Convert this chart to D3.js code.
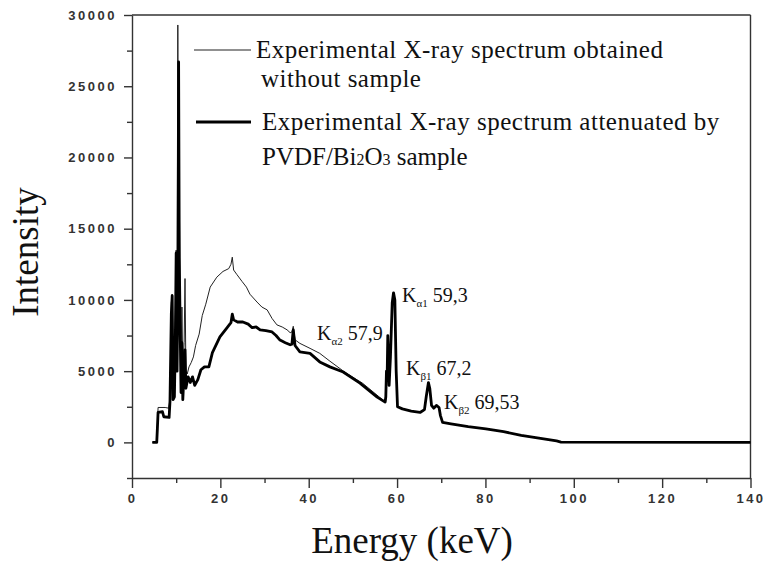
<!DOCTYPE html>
<html>
<head>
<meta charset="utf-8">
<script src="https://cdn.jsdelivr.net/npm/d3@7"></script>
<style>
  body { margin: 0; background: #fff; }
</style>
</head>
<body>
<svg id="chart" width="763" height="567"></svg>
<script>
// X-ray spectrum, with and without PVDF/Bi2O3 sample

// spectrum obtained without sample (thin line)
var energyFree = [4.6, 5.6, 5.75, 5.9, 7.5, 8.3, 8.6, 8.9, 9.1, 9.3, 9.6, 9.8, 10.0, 10.2, 10.37, 10.5, 10.7, 10.9,
	11.1, 11.3, 11.5, 11.8, 12.0, 12.2, 12.5, 12.9, 13.4, 13.9, 14.4, 15.2, 15.9, 16.7, 17.7, 19.2, 20.6, 21.9,
	22.4, 22.7, 23.0, 23.7, 24.9, 25.9, 26.7, 28.3, 29.4, 30.6, 31.7, 32.8, 34.0, 35.1, 35.8, 36.2, 36.5, 36.9,
	38.0, 40.3, 42.5, 44.8, 48.3, 52.2, 56.0, 57.4];
var intensityFree = [0, 0, 1200, 2450, 2450, 2400, 3000, 9800, 10400, 3500, 4200, 8000, 13500, 6000, 29300, 16000, 18000, 9000,
	6000, 9500, 5000, 7000, 11500, 5000, 4800, 5300, 5600, 6000, 6800, 7600, 8900, 9700, 10900, 11600, 12000, 12200,
	12500, 13000, 12100, 11800, 11300, 10900, 10400, 9850, 9500, 9300, 8700, 8250, 8100, 7900, 7700, 7750, 8150, 7200,
	6950, 6600, 6250, 5700, 4900, 4150, 3180, 2830];

// spectrum attenuated by the PVDF/Bi2O3 sample (thick line)
var energyPvdf = [4.6, 5.6, 5.75, 5.9, 6.9, 7.2, 8.4, 8.6, 8.9, 9.1, 9.3, 9.6, 9.8, 10.0, 10.2, 10.4, 10.55, 10.7, 10.9,
	11.1, 11.3, 11.5, 11.8, 12.0, 12.2, 12.7, 13.2, 13.7, 14.2, 14.9, 15.6, 16.4, 17.4, 18.2, 19.9, 21.4, 22.4,
	22.7, 23.0, 23.9, 25.1, 26.3, 27.2, 28.1, 29.0, 30.3, 31.7, 32.6, 33.5, 34.7, 35.8, 36.2, 36.5, 36.9,
	38.0, 40.3, 42.5, 44.8, 47.8, 51.6, 55.5,
	57.3, 57.45, 57.6, 57.75, 57.9, 58.2, 58.5, 58.9, 59.2, 59.5, 59.8, 60.1, 61.2, 63.2, 65.2, 66.2, 66.6, 67.1,
	67.4, 67.8, 68.3, 68.9, 69.5, 69.8, 70.3, 72.2, 76.1, 80.1, 84.1, 88.1, 92.1, 96.1, 97.1, 140];
var intensityPvdf = [0, 0, 1000, 2100, 2150, 1800, 1750, 2900, 9000, 10300, 3000, 3200, 7000, 13300, 5000, 11000, 26700, 13000, 8000,
	3500, 7000, 3000, 5000, 6500, 3800, 4600, 4200, 4600, 4000, 4400, 5100, 5300, 5300, 6300, 7400, 8000, 8400,
	9000, 8600, 8450, 8450, 8300, 8050, 8100, 7900, 7850, 7750, 7500, 7180, 7000, 6850, 6900, 7900, 6800,
	6350, 6250, 5650, 5300, 4940, 4160, 3180,
	2830, 3200, 5000, 4500, 7500, 4000, 6000, 9800, 10500, 10000, 5000, 2500, 2350, 2200, 2100, 2300, 3200, 4200,
	3800, 2600, 2400, 2600, 2450, 1900, 1400, 1300, 1100, 950, 750, 500, 300, 100, 20, 0];

var xTicks = [0, 20, 40, 60, 80, 100, 120, 140];
var xMinorTicks = [10, 30, 50, 70, 90, 110, 130];
var yTicks = [0, 5000, 10000, 15000, 20000, 25000, 30000];
var yMinorTicks = [-2500, 2500, 7500, 12500, 17500, 22500, 27500];

var peakLabels = [
	{ sub: 'α1', text: '59,3', e: 59.3 },
	{ sub: 'α2', text: '57,9', e: 57.9 },
	{ sub: 'β1', text: '67,2', e: 67.2 },
	{ sub: 'β2', text: '69,53', e: 69.53 }
];

// the thin series runs together with the thick one above 57 keV
var freeTail = energyPvdf.map(function (e, i) { return [e, intensityPvdf[i]]; })
		.filter(function (d) { return d[0] > 57.4; });
var freeData = energyFree.map(function (e, i) { return [e, intensityFree[i]]; }).concat(freeTail);
var pvdfData = energyPvdf.map(function (e, i) { return [e, intensityPvdf[i]]; });

var svg = d3.select('#chart');

// plot box (note: "top" is taken by window.top)
var plotLeft = 132, plotRight = 750.5, plotTop = 15, plotBottom = 478;

var x = d3.scaleLinear().domain([0, 140]).range([plotLeft, plotRight]);
var y = d3.scaleLinear().domain([-2500, 30000]).range([plotBottom, plotTop]);

var axisColor = '#333';

// axes with minor ticks
svg.append('g')
		.attr('transform', 'translate(0,' + plotBottom + ')')
		.call(d3.axisBottom(x).tickValues(xMinorTicks).tickSize(5).tickFormat(''))
		.call(function (g) { g.select('.domain').remove(); });

svg.append('g')
		.attr('transform', 'translate(' + plotLeft + ',0)')
		.call(d3.axisLeft(y).tickValues(yMinorTicks).tickSize(5).tickFormat(''))
		.call(function (g) { g.select('.domain').remove(); });

svg.append('g')
		.attr('transform', 'translate(0,' + plotBottom + ')')
		.call(d3.axisBottom(x).tickValues(xTicks).tickSize(10).tickSizeOuter(0).tickPadding(6));

svg.append('g')
		.attr('transform', 'translate(' + plotLeft + ',0)')
		.call(d3.axisLeft(y).tickValues(yTicks).tickSize(8).tickSizeOuter(0).tickPadding(7).tickFormat(d3.format('d')));

svg.selectAll('.tick line, .domain')
		.attr('stroke', axisColor)
		.attr('stroke-width', 1.4);

svg.selectAll('.tick text')
		.attr('fill', '#333')
		.style('font-family', 'Liberation Sans, Arial, sans-serif')
		.style('font-size', '13px')
		.style('font-weight', 'bold')
		.style('letter-spacing', '2.5px');

// frame on top and right
svg.append('line')
		.attr('x1', plotLeft).attr('x2', plotRight).attr('y1', plotTop).attr('y2', plotTop)
		.attr('stroke', axisColor).attr('stroke-width', 1.4);
svg.append('line')
		.attr('x1', plotRight).attr('x2', plotRight).attr('y1', plotTop).attr('y2', plotBottom)
		.attr('stroke', axisColor).attr('stroke-width', 1.4);

var line = d3.line()
		.x(function (d) { return x(d[0]); })
		.y(function (d) { return y(d[1]); });

svg.append('path')
		.datum(freeData)
		.attr('d', line)
		.attr('fill', 'none')
		.attr('stroke', '#222')
		.attr('stroke-width', 1)
		.attr('stroke-linejoin', 'round');

svg.append('path')
		.datum(pvdfData)
		.attr('d', line)
		.attr('fill', 'none')
		.attr('stroke', '#000')
		.attr('stroke-width', 2.8)
		.attr('stroke-linejoin', 'round');

// legend
var serif = 'Liberation Serif, Times New Roman, serif';

svg.append('line')
		.attr('x1', 194).attr('x2', 251).attr('y1', 50).attr('y2', 50)
		.attr('stroke', '#222').attr('stroke-width', 1.2);
svg.append('line')
		.attr('x1', 196).attr('x2', 251).attr('y1', 122).attr('y2', 122)
		.attr('stroke', '#000').attr('stroke-width', 3);

var legendText = [
	{ x: 256, y: 58, t: 'Experimental X-ray spectrum obtained' },
	{ x: 261, y: 87, t: 'without sample' },
	{ x: 262, y: 130, t: 'Experimental X-ray spectrum attenuated by' }
];

svg.selectAll('text.legend')
		.data(legendText)
		.enter()
		.append('text')
		.attr('class', 'legend')
		.attr('x', function (d) { return d.x; })
		.attr('y', function (d) { return d.y; })
		.text(function (d) { return d.t; })
		.style('font-family', serif)
		.style('font-size', '25px')
		.style('letter-spacing', '0.5px')
		.style('fill', '#111');

var pvdf = svg.append('text')
		.attr('x', 262)
		.attr('y', 165)
		.style('font-family', serif)
		.style('font-size', '25px')
		.style('fill', '#111');
pvdf.append('tspan').text('PVDF/Bi');
pvdf.append('tspan').text('2').style('font-size', '16px');
pvdf.append('tspan').text('O');
pvdf.append('tspan').text('3').style('font-size', '16px');
pvdf.append('tspan').text(' sample');

// peak annotations
var labelPos = {
	'α1': [402, 302],
	'α2': [317, 340],
	'β1': [406, 375],
	'β2': [444, 409]
};

peakLabels.forEach(function (p) {
	var pos = labelPos[p.sub];
	var t = svg.append('text')
			.attr('x', pos[0])
			.attr('y', pos[1])
			.style('font-family', serif)
			.style('font-size', '20px')
			.style('fill', '#111');
	t.append('tspan').text('K');
	t.append('tspan').text(p.sub).attr('dy', 5).style('font-size', '11px');
	t.append('tspan').text(' ' + p.text).attr('dy', -5);
});

// axis titles
svg.append('text')
		.attr('transform', 'translate(38,252) rotate(-90)')
		.attr('text-anchor', 'middle')
		.text('Intensity')
		.style('font-family', serif)
		.style('font-size', '37px')
		.style('fill', '#111');

svg.append('text')
		.attr('x', 412)
		.attr('y', 553)
		.attr('text-anchor', 'middle')
		.text('Energy (keV)')
		.style('font-family', serif)
		.style('font-size', '37px')
		.style('fill', '#111');
</script>
</body>
</html>
